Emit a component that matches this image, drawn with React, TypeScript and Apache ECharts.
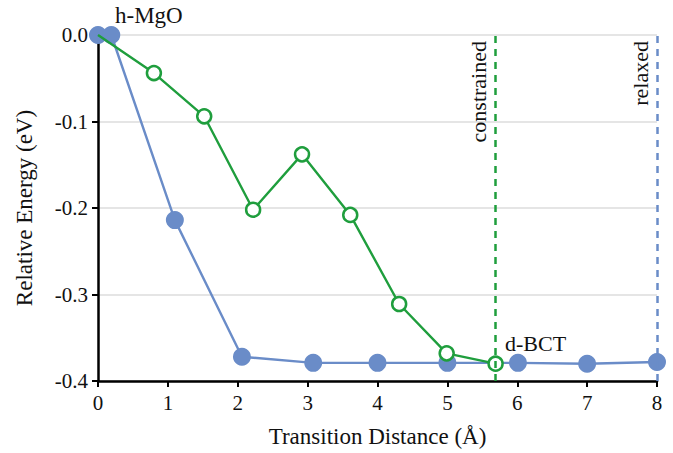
import React, { useEffect, useRef } from "react";
import * as echarts from "echarts";

const relaxedX = [0, 0.19, 1.1, 2.06, 3.08, 4.0, 5.0, 6.01, 7.0, 8.0];
const relaxedY = [0, 0, -0.214, -0.372, -0.379, -0.379, -0.379, -0.379, -0.38, -0.378];
const constrainedX = [0, 0.8, 1.52, 2.22, 2.92, 3.61, 4.31, 4.99, 5.69];
const constrainedY = [0, -0.044, -0.094, -0.202, -0.138, -0.208, -0.311, -0.368, -0.38];
const constrainedEnd = 5.69;
const relaxedEnd = 8.0;

const BLUE = "#6a8cc8";
const GREEN = "#1f9e3d";
const FONT = "Liberation Serif";

export default function App() {
  const ref = useRef<HTMLDivElement>(null);
  useEffect(() => {
    const chart = echarts.init(ref.current!, null, { renderer: "svg" });
    const relaxed = relaxedX.map((x, i) => [x, relaxedY[i]]);
    const constrained = constrainedX.map((x, i) =>
      i === 0 ? { value: [x, constrainedY[i]], symbol: "none" } : [x, constrainedY[i]]
    );
    chart.setOption({
      animation: false,
      textStyle: { fontFamily: FONT },
      grid: { left: 98, right: 16, top: 35, bottom: 69 },
      xAxis: {
        type: "value",
        min: 0,
        max: 8,
        interval: 1,
        name: "Transition Distance (Å)",
        nameLocation: "middle",
        nameGap: 44,
        nameTextStyle: { fontFamily: FONT, fontSize: 23, color: "#111" },
        axisLine: { onZero: false, lineStyle: { color: "#000", width: 2.5 } },
        axisTick: { show: true, length: 6, lineStyle: { color: "#000", width: 2 } },
        axisLabel: { fontFamily: FONT, fontSize: 21, color: "#111", margin: 11 },
        splitLine: { show: false },
      },
      yAxis: {
        type: "value",
        min: -0.4,
        max: 0,
        interval: 0.1,
        name: "Relative Energy (eV)",
        nameLocation: "middle",
        nameGap: 62,
        nameTextStyle: { fontFamily: FONT, fontSize: 23, color: "#111" },
        axisLine: { show: true, onZero: false, lineStyle: { color: "#000", width: 2.5 } },
        axisTick: { show: true, length: 6, lineStyle: { color: "#000", width: 2 } },
        axisLabel: {
          fontFamily: FONT,
          fontSize: 21,
          color: "#111",
          margin: 10,
          formatter: (v: number) => (Math.abs(v) < 1e-9 ? "0.0" : v.toFixed(1)),
        },
        splitLine: { show: true, lineStyle: { color: "#dcdcdc", width: 1.5 } },
      },
      series: [
        {
          type: "line",
          data: relaxed,
          z: 2,
          symbol: "circle",
          symbolSize: 18,
          lineStyle: { color: BLUE, width: 2.4 },
          itemStyle: { color: BLUE },
          markLine: {
            silent: true,
            symbol: "none",
            lineStyle: { color: BLUE, type: [7, 6], width: 2.5 },
            label: {
              show: true,
              position: "insideEndTop",
              formatter: "relaxed",
              fontFamily: FONT,
              fontSize: 22,
              color: "#111",
              distance: 6,
            },
            data: [[{ coord: [relaxedEnd, -0.4] }, { coord: [relaxedEnd, 0] }]],
          },
        },
        {
          type: "line",
          data: constrained,
          z: 3,
          symbol: "circle",
          symbolSize: 14,
          lineStyle: { color: GREEN, width: 2.4 },
          itemStyle: { color: "#fff", borderColor: GREEN, borderWidth: 2.5 },
          markLine: {
            silent: true,
            symbol: "none",
            lineStyle: { color: GREEN, type: [7, 6], width: 2.5 },
            label: {
              show: true,
              position: "insideEndTop",
              formatter: "constrained",
              fontFamily: FONT,
              fontSize: 22,
              color: "#111",
              distance: 6,
            },
            data: [[{ coord: [constrainedEnd, -0.4] }, { coord: [constrainedEnd, 0] }]],
          },
        },
      ],
      graphic: [
        { type: "text", left: 115, top: 4, style: { text: "h-MgO", fontFamily: FONT, fontSize: 23, fill: "#111" } },
        { type: "text", left: 505, top: 332, style: { text: "d-BCT", fontFamily: FONT, fontSize: 22, fill: "#111" } },
      ],
    });
    return () => chart.dispose();
  }, []);
  return (
    <div
      ref={ref}
      style={{ position: "absolute", left: 0, top: 0, width: 673, height: 453 }}
    />
  );
}
